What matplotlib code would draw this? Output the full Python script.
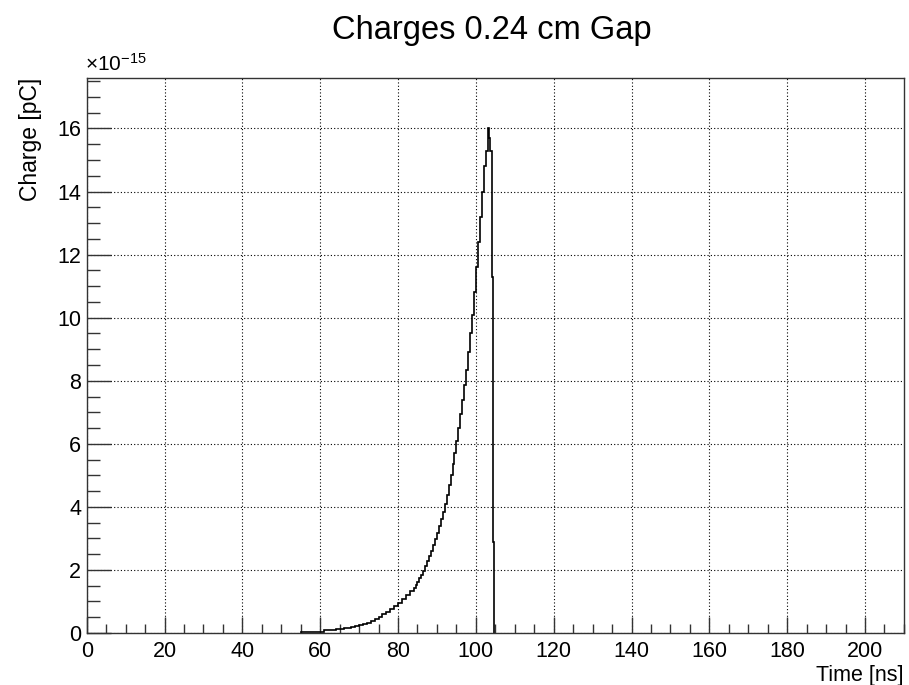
import matplotlib
matplotlib.use("Agg")
import matplotlib.pyplot as plt
from matplotlib.ticker import MultipleLocator

plt.rcParams['font.family'] = ['Liberation Sans', 'DejaVu Sans']
plt.rcParams['mathtext.fontset'] = 'custom'
plt.rcParams['mathtext.rm'] = 'Liberation Sans'
plt.rcParams['mathtext.it'] = 'Liberation Sans:italic'

# histogram bin edges (ns) and contents (units of 1e-15 pC)
time_edges = [55, 56, 57, 58, 59, 60, 61, 62, 63, 64, 65, 66, 67, 68, 69, 70,
              71, 72, 73, 74, 75, 76, 77, 78, 79, 80, 81, 82, 83, 84,
              84.5, 85, 85.5, 86, 86.5, 87, 87.5, 88, 88.5, 89, 89.5, 90,
              90.5, 91, 91.5, 92, 92.5, 93, 93.5, 94, 94.5, 95, 95.5, 96,
              96.5, 97, 97.5, 98, 98.5, 99, 99.5, 100, 100.5, 101,
              101.5, 102, 102.5, 103, 103.3, 103.6, 104.2, 104.45, 104.7]
charge = [0.02, 0.02, 0.02, 0.02, 0.02, 0.02, 0.08, 0.1, 0.1, 0.12, 0.13,
          0.15, 0.17, 0.2, 0.22, 0.25, 0.29, 0.33, 0.38, 0.45, 0.52, 0.6,
          0.67, 0.75, 0.85, 0.95, 1.07, 1.2, 1.32,
          1.42, 1.52, 1.62, 1.73, 1.85, 1.98, 2.12, 2.27, 2.43, 2.6, 2.78,
          2.97, 3.17, 3.38, 3.6, 3.84, 4.1, 4.38, 4.68, 5.0, 5.35, 5.72,
          6.1, 6.5, 6.93, 7.38, 7.85, 8.35, 8.9, 9.5, 10.1, 10.8, 11.6,
          12.4, 13.2, 14.0, 14.8, 15.3, 16.0, 15.7, 15.3, 11.3, 2.9]

fig = plt.figure(figsize=(9.09, 6.85), dpi=100)
ax = fig.add_axes([0.0954, 0.0759, 0.899, 0.8102])

ax.stairs(charge, time_edges, color='black', linewidth=1.2, baseline=0)

ax.set_xlim(0, 210)
ax.set_ylim(0, 17.6)

ax.xaxis.set_major_locator(MultipleLocator(20))
ax.xaxis.set_minor_locator(MultipleLocator(5))
ax.yaxis.set_major_locator(MultipleLocator(2))
ax.yaxis.set_minor_locator(MultipleLocator(0.5))

ax.tick_params(axis='both', which='both', direction='in', top=False, right=False,
               width=1.0, color='#333333', labelsize=15.5)
ax.tick_params(axis='x', which='major', length=11.5, pad=6)
ax.tick_params(axis='x', which='minor', length=6.5)
ax.tick_params(axis='y', which='major', length=17, pad=4)
ax.tick_params(axis='y', which='minor', length=9)

for s in ax.spines.values():
    s.set_color('#333333')
    s.set_linewidth(1.0)

ax.grid(True, which='major', color='black', linestyle=(0, (1, 2)), linewidth=0.8)
ax.set_axisbelow(True)

fig.text(0.541, 0.956, 'Charges 0.24 cm Gap', ha='center', va='center', fontsize=23.5)
ax.set_xlabel('Time [ns]', fontsize=15.5, loc='right', labelpad=2)
ax.set_ylabel('Charge [pC]', fontsize=16.5, loc='top', labelpad=11)
ax.text(-0.002, 1.005, r'$\times10^{-15}$', transform=ax.transAxes,
        ha='left', va='bottom', fontsize=15)

fig.savefig('out.png', dpi=100)
